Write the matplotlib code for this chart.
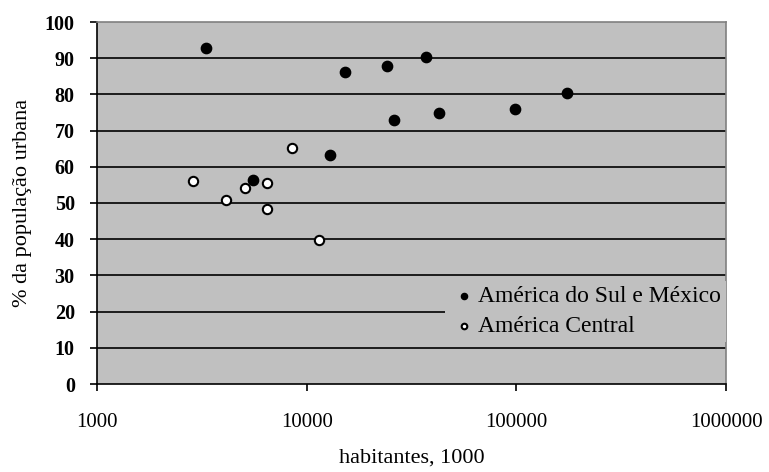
import matplotlib.pyplot as plt
from matplotlib.ticker import FixedLocator, NullLocator

# América do Sul e México
sul_x = [3310, 15230, 24060, 36900, 26070, 12960, 5527, 42750, 98100, 174300]
sul_y = [92.9, 86.2, 87.8, 90.2, 72.8, 63.2, 56.4, 74.9, 76.0, 80.3]

# América Central
central_x = [2860, 4110, 5080, 6447, 6447, 8480, 11410]
central_y = [56.2, 50.7, 54.1, 55.6, 48.3, 65.1, 39.8]

x_ticks = [1000, 10000, 100000, 1000000]
y_ticks = list(range(0, 101, 10))

plt.rcParams['font.family'] = ['Liberation Serif', 'DejaVu Serif']

fig = plt.figure(figsize=(7.69, 4.72), dpi=100)
ax = fig.add_axes([97 / 769, 1 - 384 / 472, (726 - 97) / 769, (384 - 22) / 472])
ax.set_facecolor('#c0c0c0')

for y in y_ticks[1:-1]:
    ax.axhline(y, color='black', lw=1.2, zorder=1)

ax.scatter(sul_x, sul_y, s=55, color='black', edgecolor='black', linewidth=1,
           zorder=3, label='América do Sul e México')
ax.scatter(central_x, central_y, s=45, color='white', edgecolor='black', linewidth=1.5,
           zorder=3, label='América Central')

ax.set_xscale('log')
ax.set_xlim(1000, 1000000)
ax.set_ylim(0, 100)
ax.xaxis.set_major_locator(FixedLocator(x_ticks))
ax.xaxis.set_minor_locator(NullLocator())
ax.set_xticklabels([str(v) for v in x_ticks], fontsize=15)
ax.set_yticks(y_ticks)
ax.set_yticklabels([str(v) for v in y_ticks], fontsize=14.5, fontweight='bold')
ax.tick_params(axis='x', direction='out', length=5, width=1.2, pad=16)
ax.tick_params(axis='y', direction='out', length=5, width=1.2, pad=11)

for side in ['left', 'bottom']:
    ax.spines[side].set_color('black')
    ax.spines[side].set_linewidth(1.2)
for side in ['top', 'right']:
    ax.spines[side].set_color('#808080')
    ax.spines[side].set_linewidth(1.2)

ax.set_xlabel('habitantes, 1000', fontsize=16, labelpad=12)
ax.set_ylabel('% da população urbana', fontsize=16, labelpad=9)

leg = ax.legend(loc='center right', bbox_to_anchor=(1.0, 0.2), fontsize=17,
                frameon=True, facecolor='#c0c0c0', edgecolor='none', framealpha=1,
                fancybox=False, handletextpad=0.0, borderpad=0.2, labelspacing=0.35,
                markerscale=0.6, borderaxespad=0.0, handlelength=1.2)

fig.savefig('out.png', dpi=100)
